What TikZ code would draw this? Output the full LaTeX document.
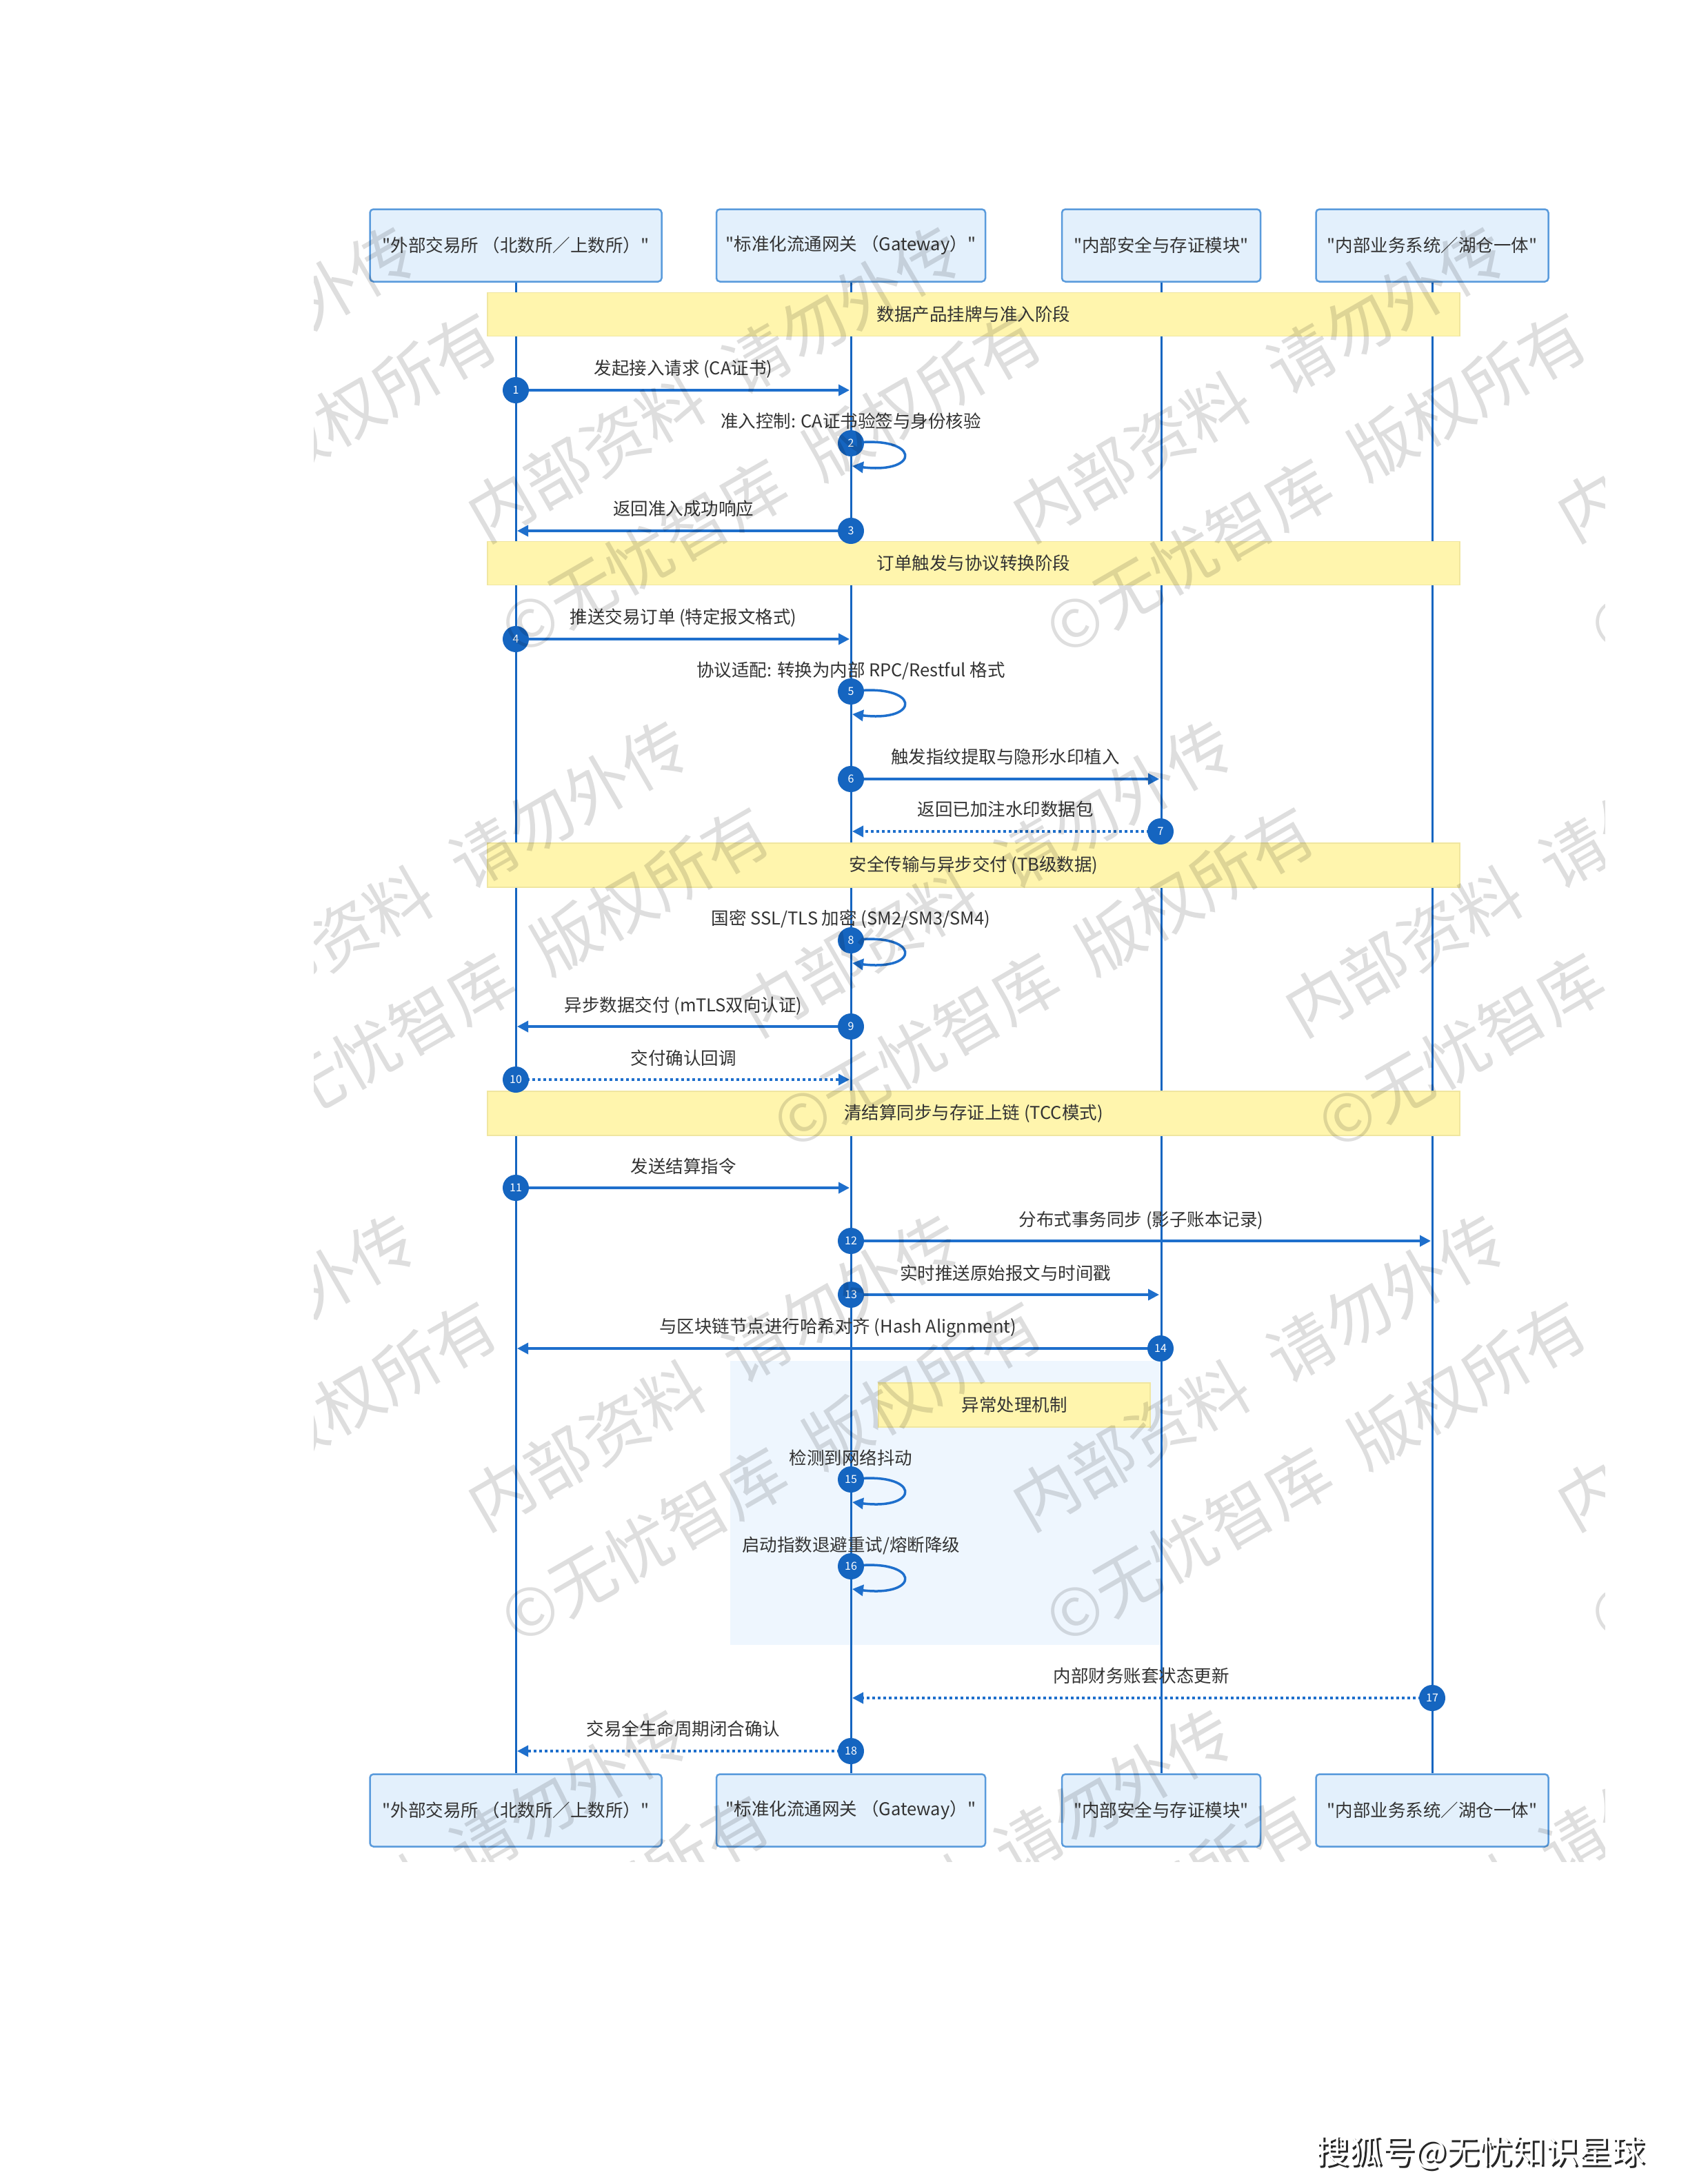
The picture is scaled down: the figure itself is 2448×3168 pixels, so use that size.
\documentclass[tikz,border=0pt]{standalone}
\usepackage{fontspec}
\setmainfont{Noto Sans CJK SC}
\newfontfamily\cjkf{Noto Sans CJK SC}
\usetikzlibrary{arrows.meta}
\definecolor{txt}{HTML}{333333}
\definecolor{life}{HTML}{1565C0}
\definecolor{msgc}{HTML}{1E6FCC}
\definecolor{numc}{HTML}{1565C0}
\definecolor{boxf}{HTML}{E3F0FC}
\definecolor{boxd}{HTML}{5A9BDC}
\definecolor{barf}{HTML}{FFF5AD}
\definecolor{bard}{HTML}{F0E6A0}
\definecolor{excf}{HTML}{EEF6FE}
\tikzset{
  part/.style={draw=boxd, fill=boxf, line width=2.5pt, rounded corners=5pt, inner sep=0pt,
    text=txt, font=\cjkf\fontsize{25.5}{30}\selectfont},
  phasebar/.style={draw=bard, fill=barf, line width=1.5pt, inner sep=0pt,
    text=txt, font=\cjkf\fontsize{25.5}{30}\selectfont},
  lifel/.style={draw=life, line width=3pt},
  msg/.style={draw=msgc, line width=3.5pt, -{Triangle[length=16pt,width=16pt]}},
  dmsg/.style={msg, dash pattern=on 4pt off 4pt},
  num/.style={circle, fill=numc, minimum size=38pt, inner sep=0pt, text=white,
    font=\cjkf\fontsize{16}{18}\selectfont},
  lbl/.style={text=txt, font=\cjkf\fontsize{25.5}{30}\selectfont, inner sep=0pt,
    text height=20pt, text depth=5pt},
  wm/.style={text=black, text opacity=0.13, rotate=30, align=center, inner sep=0pt,
    font=\cjkf\fontsize{95}{167}\selectfont},
}
\begin{document}
\begin{tikzpicture}[x=1pt,y=-1pt]
\useasboundingbox (0,0) rectangle (2448,3168);
\fill[white] (0,0) rectangle (2448,3168);

% exception area background
\fill[excf] (1059,1974) rectangle (1683,2386);

% participants (top and bottom)
\node[part, minimum width=423pt, minimum height=105pt] (p1) at (748,356) {"外部交易所 （北数所／上数所）"};
\node[part, minimum width=390pt, minimum height=105pt] (p2) at (1234,356) {"标准化流通网关 （Gateway）"};
\node[part, minimum width=288pt, minimum height=105pt] (p3) at (1684,356) {"内部安全与存证模块"};
\node[part, minimum width=337pt, minimum height=105pt] (p4) at (2077,356) {"内部业务系统／湖仓一体"};
\node[part, minimum width=423pt, minimum height=105pt] (q1) at (748,2626) {"外部交易所 （北数所／上数所）"};
\node[part, minimum width=390pt, minimum height=105pt] (q2) at (1234,2626) {"标准化流通网关 （Gateway）"};
\node[part, minimum width=288pt, minimum height=105pt] (q3) at (1684,2626) {"内部安全与存证模块"};
\node[part, minimum width=337pt, minimum height=105pt] (q4) at (2077,2626) {"内部业务系统／湖仓一体"};

% lifelines
\draw[lifel] (p1.south) -- (q1.north);
\draw[lifel] (p2.south) -- (q2.north);
\draw[lifel] (p3.south) -- (q3.north);
\draw[lifel] (p4.south) -- (q4.north);

% phase bars
\node[phasebar, minimum width=1410pt, minimum height=63pt] (b1) at (1412,456) {数据产品挂牌与准入阶段};
\node[phasebar, minimum width=1410pt, minimum height=63pt] (b2) at (1412,817) {订单触发与协议转换阶段};
\node[phasebar, minimum width=1410pt, minimum height=64pt] (b3) at (1412,1255) {安全传输与异步交付 (TB级数据)};
\node[phasebar, minimum width=1410pt, minimum height=64pt] (b4) at (1412,1615) {清结算同步与存证上链 (TCC模式)};
\node[phasebar, minimum width=394pt, minimum height=64pt] (nt) at (1471,2038) {异常处理机制};

% coordinates on lifelines
\coordinate (s1) at (748,566);   \coordinate (t1) at (1232,566);
\coordinate (s2) at (1234,643);
\coordinate (s3) at (1234,770);  \coordinate (t3) at (750,770);
\coordinate (s4) at (748,927);   \coordinate (t4) at (1232,927);
\coordinate (s5) at (1234,1003);
\coordinate (s6) at (1234,1130); \coordinate (t6) at (1681,1130);
\coordinate (s7) at (1683,1206); \coordinate (t7) at (1236,1206);
\coordinate (s8) at (1234,1364);
\coordinate (s9) at (1234,1489); \coordinate (t9) at (750,1489);
\coordinate (s10) at (748,1566); \coordinate (t10) at (1232,1566);
\coordinate (s11) at (748,1723); \coordinate (t11) at (1232,1723);
\coordinate (s12) at (1234,1800);\coordinate (t12) at (2075,1800);
\coordinate (s13) at (1234,1878);\coordinate (t13) at (1681,1878);
\coordinate (s14) at (1683,1956);\coordinate (t14) at (750,1956);
\coordinate (s15) at (1234,2146);
\coordinate (s16) at (1234,2272);
\coordinate (s17) at (2077,2463);\coordinate (t17) at (1236,2463);
\coordinate (s18) at (1234,2540);\coordinate (t18) at (750,2540);

% messages
\draw[msg] (s1) -- (t1);
\draw[msg] (s2) .. controls ++(101,-13) and ++(101,12) .. ++(2,33);
\draw[msg] (s3) -- (t3);
\draw[msg] (s4) -- (t4);
\draw[msg] (s5) .. controls ++(101,-13) and ++(101,12) .. ++(2,33);
\draw[msg] (s6) -- (t6);
\draw[dmsg] (s7) -- (t7);
\draw[msg] (s8) .. controls ++(101,-13) and ++(101,12) .. ++(2,33);
\draw[msg] (s9) -- (t9);
\draw[dmsg] (s10) -- (t10);
\draw[msg] (s11) -- (t11);
\draw[msg] (s12) -- (t12);
\draw[msg] (s13) -- (t13);
\draw[msg] (s14) -- (t14);
\draw[msg] (s15) .. controls ++(101,-13) and ++(101,12) .. ++(2,33);
\draw[msg] (s16) .. controls ++(101,-13) and ++(101,12) .. ++(2,33);
\draw[dmsg] (s17) -- (t17);
\draw[dmsg] (s18) -- (t18);

% numbered circles
\foreach \i in {1,...,18} { \node[num] (c\i) at (s\i) {\i}; }

% labels
\node[lbl] (l1) at (991,536) {发起接入请求 (CA证书)};
\node[lbl] (l2) at (1234,613) {准入控制: CA证书验签与身份核验};
\node[lbl] (l3) at (991,740) {返回准入成功响应};
\node[lbl] (l4) at (991,897) {推送交易订单 (特定报文格式)};
\node[lbl] (l5) at (1234,974) {协议适配: 转换为内部 RPC/Restful 格式};
\node[lbl] (l6) at (1458,1100) {触发指纹提取与隐形水印植入};
\node[lbl] (l7) at (1458,1176) {返回已加注水印数据包};
\node[lbl] (l8) at (1234,1334) {国密 SSL/TLS 加密 (SM2/SM3/SM4)};
\node[lbl] (l9) at (991,1460) {异步数据交付 (mTLS双向认证)};
\node[lbl] (l10) at (991,1537) {交付确认回调};
\node[lbl] (l11) at (991,1694) {发送结算指令};
\node[lbl] (l12) at (1655,1771) {分布式事务同步 (影子账本记录)};
\node[lbl] (l13) at (1458,1849) {实时推送原始报文与时间戳};
\node[lbl] (l14) at (1215,1926) {与区块链节点进行哈希对齐 (Hash Alignment)};
\node[lbl] (l15) at (1234,2117) {检测到网络抖动};
\node[lbl] (l16) at (1234,2243) {启动指数退避重试/熔断降级};
\node[lbl] (l17) at (1655,2433) {内部财务账套状态更新};
\node[lbl] (l18) at (991,2510) {交易全生命周期闭合确认};

% watermark
\begin{scope}
\clip (455,283) rectangle (2327,2700);
\foreach \y in {628,2062} {
  \foreach \x in {287,1077,1867,2657} {
    \node[wm] at (\x,\y) {内部资料\hspace{0.5em}请勿外传\\©无忧智库\hspace{0.5em}版权所有};
  }
}
\foreach \y in {-89,1345,2779} {
  \foreach \x in {-108,682,1472,2262,3052} {
    \node[wm] at (\x,\y) {内部资料\hspace{0.5em}请勿外传\\©无忧智库\hspace{0.5em}版权所有};
  }
}
\end{scope}

% footer
\node[text=black!85, font=\cjkf\fontsize{48}{50}\selectfont, inner sep=0pt] (sh) at (2150,3125) {搜狐号@无忧知识星球};
\node[text=white, font=\cjkf\fontsize{48}{50}\selectfont, inner sep=0pt] (sw) at (2147,3122) {搜狐号@无忧知识星球};
\end{tikzpicture}
\end{document}
